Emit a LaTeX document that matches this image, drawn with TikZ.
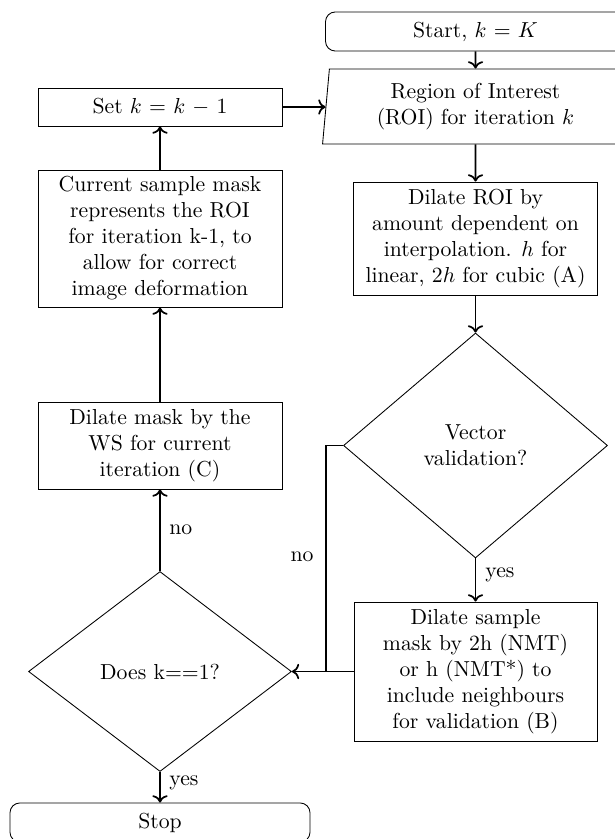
\documentclass[tikz,border=0pt]{standalone}
\usetikzlibrary{shapes.geometric,arrows.meta}
\begin{document}
\begin{tikzpicture}[x=0.461pt,y=-0.461pt,
  box/.style={draw,rectangle,align=center,inner sep=1pt,minimum width=112.5pt},
  term/.style={draw,rectangle,rounded corners=4.5pt,minimum width=138.3pt,minimum height=18pt,inner sep=0pt},
  dec/.style={draw,diamond,align=center,inner sep=0pt},
  io/.style={draw,trapezium,trapezium left angle=81.7,trapezium right angle=98.3,trapezium stretches body,align=center,inner sep=0pt,minimum width=141pt,minimum height=34.6pt},
  arr/.style={thick,->},
  lab/.style={inner sep=0pt}]
\useasboundingbox (0,0) rectangle (614,839);

\node[term] (start) at (475.5,31.5) {Start, $k$ $=$ $K$};
\node[io] (roi) at (475.5,106.5) {Region of Interest\\(ROI) for iteration $k$};
\node[box,minimum height=52.1pt] (dilroi) at (475.5,238.5) {Dilate ROI by\\amount dependent on\\interpolation. $h$ for\\linear, $2h$ for cubic (A)};
\node[dec,minimum width=121.7pt,minimum height=103.7pt] (vec) at (475.5,445.5) {Vector\\validation?};
\node[box,minimum width=112pt,minimum height=64.1pt] (dilsamp) at (475.5,671.5) {Dilate sample\\mask by 2h (NMT)\\or h (NMT*) to\\include neighbours\\for validation (B)};
\node[dec,minimum width=121.2pt,minimum height=92.2pt] (does) at (160,671.5) {Does k==1?};
\node[term] (stop) at (160,822.5) {Stop};
\node[box,minimum height=40.1pt] (ws) at (160,445.5) {Dilate mask by the\\WS for current\\iteration (C)};
\node[box,minimum height=63.2pt] (cur) at (160,238.5) {Current sample mask\\represents the ROI\\for iteration k-1, to\\allow for correct\\image deformation};
\node[box,minimum height=17.5pt] (set) at (160,107) {Set $k$ $=$ $k$ $-$ $1$};

\coordinate (nojoin) at (326,671.5);

\draw[arr] (start.south) -- (roi.north);
\draw[arr] (roi.south) -- (dilroi.north);
\draw[arr] (dilroi.south) -- (vec.north);
\draw[arr] (vec.south) -- (dilsamp.north);
\draw[arr] (dilsamp.west) -- (does.east);
\draw[thick] (vec.west) -| (nojoin);
\draw[arr] (does.south) -- (stop.north);
\draw[arr] (does.north) -- (ws.south);
\draw[arr] (ws.north) -- (cur.south);
\draw[arr] (cur.north) -- (set.south);
\draw[arr] (set.east) -- (set.east -| roi.west);

\node[lab,anchor=west] (yes1) at (485,575) {yes};
\node[lab,anchor=west] (yes2) at (169,783) {yes};
\node[lab,anchor=west] (no1) at (169,530) {no};
\node[lab,anchor=east] (no2) at (314,557) {no};
\end{tikzpicture}
\end{document}
